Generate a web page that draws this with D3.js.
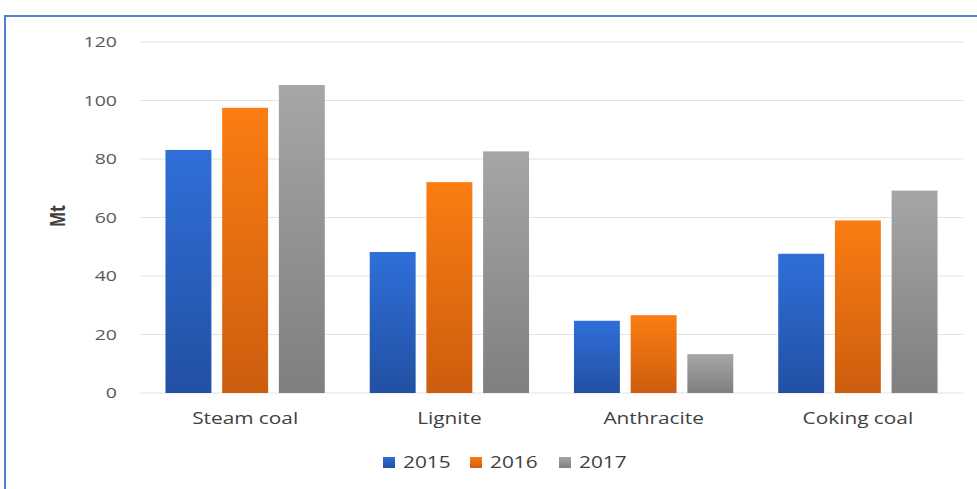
<!DOCTYPE html>
<html>
<head>
<meta charset="utf-8">
<script src="https://cdn.jsdelivr.net/npm/d3@7"></script>
<style>
  html, body { margin: 0; padding: 0; background: #fff; }
  svg { display: block; font-family: "Open Sans", "DejaVu Sans", sans-serif; }
</style>
</head>
<body>
<script>
const categories = ["Steam coal", "Lignite", "Anthracite", "Coking coal"];
const years = ["2015", "2016", "2017"];
const values2015 = [83.1, 48.2, 24.7, 47.6];
const values2016 = [97.5, 72.1, 26.6, 59.0];
const values2017 = [105.3, 82.6, 13.3, 69.2];
const yTicks = [0, 20, 40, 60, 80, 100, 120];

const seriesValues = [values2015, values2016, values2017];
const palette = {
  "2015": ["#2f6fd8", "#2250a3"],
  "2016": ["#fb7d12", "#cc5d0f"],
  "2017": ["#a6a6a6", "#7f7f7f"]
};

const width = 977, height = 489;
const STRETCH = 1.3; // the original text is a bit wide

const svg = d3.select("body").append("svg")
  .attr("width", width).attr("height", height);

function widen(sel) {
  sel.each(function() {
    const w = this.getComputedTextLength();
    d3.select(this)
      .attr("textLength", w * STRETCH)
      .attr("lengthAdjust", "spacingAndGlyphs");
  });
}

// gradients for the bars
const defs = svg.append("defs");
years.forEach(yr => {
  const g = defs.append("linearGradient")
    .attr("id", "grad" + yr)
    .attr("x1", 0).attr("y1", 0).attr("x2", 0).attr("y2", 1);
  g.append("stop").attr("offset", "0%").attr("stop-color", palette[yr][0]);
  g.append("stop").attr("offset", "100%").attr("stop-color", palette[yr][1]);
});

// frame
svg.append("path")
  .attr("d", "M5,489 V16 H977")
  .attr("fill", "none")
  .attr("stroke", "#4f7fcf")
  .attr("stroke-width", 2);

const x0 = d3.scaleBand()
  .domain(categories)
  .range([143, 960])
  .paddingInner(0.22)
  .paddingOuter(0.11);

const x1 = d3.scaleBand()
  .domain(years)
  .range([0, x0.bandwidth()])
  .paddingInner(0.19);

const y = d3.scaleLinear()
  .domain([0, 120])
  .range([393, 42]);

// grid
svg.append("g")
  .selectAll("line")
  .data(yTicks)
  .join("line")
  .attr("x1", 140).attr("x2", 963)
  .attr("y1", d => y(d)).attr("y2", d => y(d))
  .attr("stroke", "#e3e3e3")
  .attr("stroke-width", 1);

// y tick labels
const yAxis = svg.append("g")
  .attr("transform", "translate(117,0)")
  .call(d3.axisLeft(y).tickValues(yTicks).tickSize(0).tickPadding(0));
yAxis.select(".domain").remove();
yAxis.selectAll("text")
  .attr("font-size", 15)
  .attr("fill", "#595959")
  .attr("font-family", "'Open Sans', sans-serif")
  .call(widen);

// y label
svg.append("text")
  .attr("transform", `translate(65,216) rotate(-90) scale(1,${STRETCH})`)
  .attr("text-anchor", "middle")
  .attr("font-size", 16)
  .attr("font-weight", "bold")
  .attr("fill", "#404040")
  .text("Mt");

// bars
const rows = categories.map((c, i) => ({
  cat: c,
  vals: years.map((yr, j) => ({ yr, v: seriesValues[j][i] }))
}));

svg.append("g")
  .selectAll("g")
  .data(rows)
  .join("g")
  .attr("transform", d => `translate(${x0(d.cat)},0)`)
  .selectAll("rect")
  .data(d => d.vals)
  .join("rect")
  .attr("x", d => x1(d.yr))
  .attr("width", x1.bandwidth())
  .attr("y", d => y(d.v))
  .attr("height", d => y(0) - y(d.v))
  .attr("fill", d => `url(#grad${d.yr})`);

// x labels
const xAxis = svg.append("g")
  .attr("transform", "translate(0,393)")
  .call(d3.axisBottom(x0).tickSize(0).tickPadding(20));
xAxis.select(".domain").remove();
xAxis.selectAll("text")
  .attr("font-size", 16)
  .attr("fill", "#404040")
  .attr("font-family", "'Open Sans', sans-serif")
  .call(widen);

// legend
const legendX = d3.scaleOrdinal().domain(years).range([383, 470, 559]);
const legend = svg.append("g")
  .selectAll("g")
  .data(years)
  .join("g")
  .attr("transform", d => `translate(${legendX(d)},457)`);
legend.append("rect")
  .attr("width", 12).attr("height", 11)
  .attr("fill", d => `url(#grad${d})`);
legend.append("text")
  .attr("x", 20).attr("y", 11)
  .attr("font-size", 16)
  .attr("fill", "#404040")
  .text(d => d)
  .call(widen);
</script>
</body>
</html>
